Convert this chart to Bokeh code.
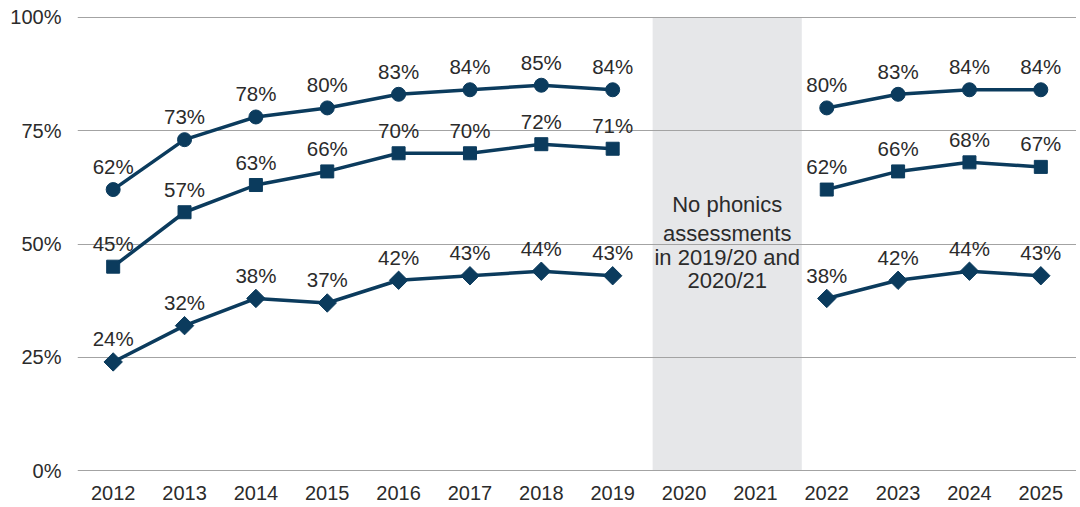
import numpy as np
from bokeh.plotting import figure
from bokeh.models import ColumnDataSource, FixedTicker, PrintfTickFormatter, Range1d
from bokeh.core.properties import value
from bokeh.embed import file_html
from bokeh.resources import INLINE

years = list(range(2012, 2026))
expected_plus = [62, 73, 78, 80, 83, 84, 85, 84, None, None, 80, 83, 84, 84]
expected = [45, 57, 63, 66, 70, 70, 72, 71, None, None, 62, 66, 68, 67]
disadvantaged = [24, 32, 38, 37, 42, 43, 44, 43, None, None, 38, 42, 44, 43]
y_ticks = [0, 25, 50, 75, 100]
gap_years = [2020, 2021]
gap_note = ["No phonics", "assessments", "in 2019/20 and", "2020/21"]

NAVY = "#0b3b5d"
TEXT = "#2b2b2b"
FONT = "Liberation Sans"

p = figure(frame_width=999, frame_height=455, output_backend="svg",
           toolbar_location=None, x_range=Range1d(2011.5, 2025.5),
           y_range=Range1d(-0.15, 100.15), min_border_left=77, min_border_top=16,
           min_border_right=0, min_border_bottom=28)
p.outline_line_color = None
p.background_fill_color = "white"

# shaded gap
gap_l = min(gap_years) - 0.44
gap_r = max(gap_years) + 0.65
p.quad(left=[gap_l], right=[gap_r], bottom=[0], top=[100],
       fill_color="#e6e7e9", line_color=None, level="image")

p.text(x=[(gap_l + gap_r) / 2] * len(gap_note),
       y=[50] * len(gap_note), text=gap_note,
       y_offset=[-40, -11, 13, 36], text_align="center", text_baseline="middle",
       text_font=value(FONT), text_font_size="22px", text_color=TEXT)

def series(vals, marker, size, angle=0.0):
    y = [np.nan if v is None else v for v in vals]
    p.line(years, y, line_color=NAVY, line_width=3.5)
    xs = [yr for yr, v in zip(years, vals) if v is not None]
    ys = [v for v in vals if v is not None]
    src = ColumnDataSource(dict(x=xs, y=ys, lab=[f"{v}%" for v in ys]))
    p.scatter("x", "y", source=src, marker=marker, size=size, angle=angle,
              fill_color=NAVY, line_color=NAVY)
    p.text("x", "y", text="lab", source=src, y_offset=-23, text_align="center",
           text_baseline="alphabetic", text_font=value(FONT),
           text_font_size="20.5px", text_color=TEXT)

series(expected_plus, "circle", 14)
series(expected, "square", 13)
series(disadvantaged, "square", 13, angle=np.pi / 4)

for ax in (p.xaxis, p.yaxis):
    ax.axis_line_color = None
    ax.major_tick_line_color = None
    ax.minor_tick_line_color = None
    ax.major_label_text_font = FONT
    ax.major_label_text_font_size = "20px"
    ax.major_label_text_color = TEXT

p.xaxis.ticker = FixedTicker(ticks=years)
p.xaxis.major_label_standoff = 8
p.yaxis.ticker = FixedTicker(ticks=y_ticks)
p.yaxis.formatter = PrintfTickFormatter(format="%d%%")
p.yaxis.major_label_standoff = 10

p.xgrid.grid_line_color = None
p.ygrid.grid_line_color = "#a3a3a3"
p.ygrid.grid_line_width = 1.2

open("out.html", "w").write(file_html(p, INLINE))
